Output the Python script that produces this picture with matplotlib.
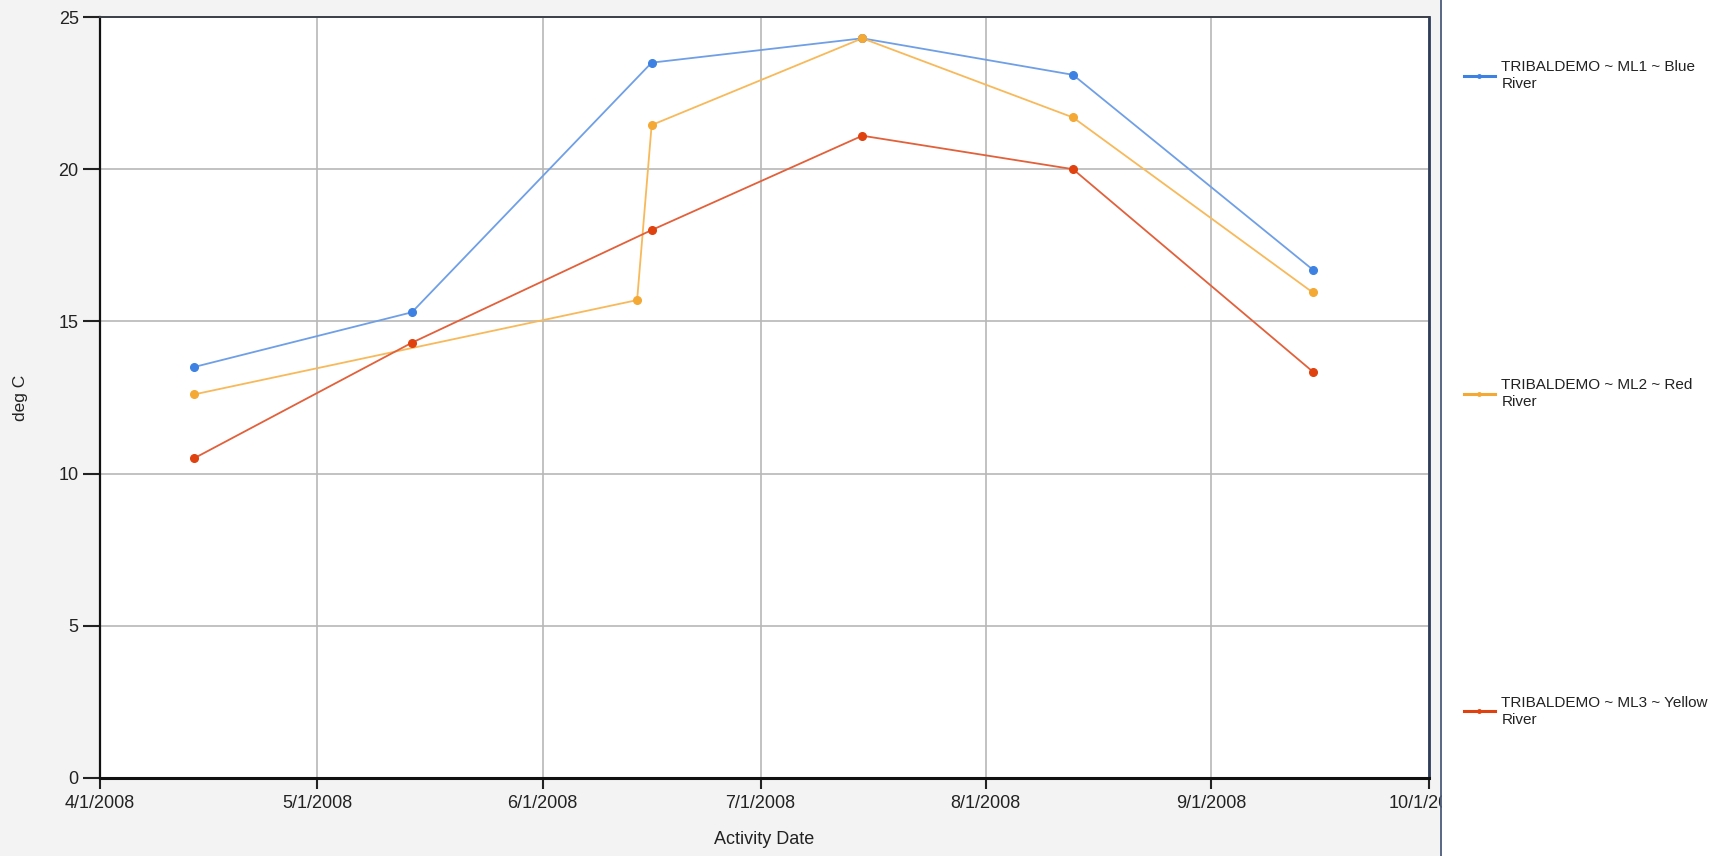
import matplotlib
matplotlib.use("Agg")
import matplotlib.pyplot as plt
import matplotlib.dates as mdates
from matplotlib.patches import Rectangle
from matplotlib.lines import Line2D
import numpy as np
import datetime as dt

plt.rcParams['font.family'] = ['Liberation Sans', 'DejaVu Sans']

# data
blue_dates = ['2008-04-14', '2008-05-14', '2008-06-16', '2008-07-15', '2008-08-13', '2008-09-15']
blue_vals = [13.5, 15.3, 23.5, 24.3, 23.1, 16.7]

orange_dates = ['2008-04-14', '2008-06-14', '2008-06-16', '2008-07-15', '2008-08-13', '2008-09-15']
orange_vals = [12.6, 15.7, 21.45, 24.3, 21.7, 15.95]

red_dates = ['2008-04-14', '2008-05-14', '2008-06-16', '2008-07-15', '2008-08-13', '2008-09-15']
red_vals = [10.5, 14.3, 18.0, 21.1, 20.0, 13.35]

series_labels = ['TRIBALDEMO ~ ML1 ~ Blue\nRiver',
                 'TRIBALDEMO ~ ML2 ~ Red\nRiver',
                 'TRIBALDEMO ~ ML3 ~ Yellow\nRiver']
line_colors = ['#6f9fe6', '#f7b95a', '#e2603a']
marker_colors = ['#3d82e3', '#f5a935', '#e0420f']

y_ticks = [0, 5, 10, 15, 20, 25]
x_start = dt.date(2008, 4, 1)
x_end = dt.date(2008, 10, 1)


def to_dates(lst):
    return [dt.datetime.strptime(s, '%Y-%m-%d') for s in lst]


W, H = 1723, 856
fig = plt.figure(figsize=(W / 100, H / 100), dpi=100)
fig.patch.set_facecolor('#f3f3f3')

ax = fig.add_axes([99.5 / W, 1 - 778 / H, (1429 - 99.5) / W, (778 - 17) / H])
ax.set_facecolor('white')

series = [(blue_dates, blue_vals), (orange_dates, orange_vals), (red_dates, red_vals)]
handles = []
for (d, v), lc, mc, lab in zip(series, line_colors, marker_colors, series_labels):
    ax.plot(to_dates(d), v, color=lc, linewidth=1.3, zorder=3)
    ax.plot(to_dates(d), v, linestyle='none', marker='o', markersize=5.5,
            markerfacecolor=mc, markeredgecolor=mc, zorder=4)
    handles.append(Line2D([0], [0], color=mc, linewidth=2.2, marker='o',
                          markersize=2.5, markerfacecolor=mc, markeredgecolor=mc))

ax.set_xlim(x_start, x_end)
ax.set_ylim(0, 25)
ax.set_yticks(y_ticks)
ax.xaxis.set_major_locator(mdates.MonthLocator())
ax.xaxis.set_major_formatter(plt.FuncFormatter(
    lambda x, pos: (lambda d: f"{d.month}/{d.day}/{d.year}")(mdates.num2date(x))))

ax.grid(True, color='#b8b8b8', linewidth=1.2, zorder=1)
ax.set_axisbelow(True)

ax.tick_params(axis='y', length=12, width=1.5, pad=3, labelsize=13, colors='#222222')
ax.tick_params(axis='x', length=8, width=1.5, pad=4, labelsize=13, colors='#222222')

ax.spines['left'].set_linewidth(1.6)
ax.spines['left'].set_color('#111111')
ax.spines['bottom'].set_linewidth(2.2)
ax.spines['bottom'].set_color('#111111')
ax.spines['top'].set_linewidth(1.4)
ax.spines['top'].set_color('#3a3f48')
ax.spines['right'].set_linewidth(2.0)
ax.spines['right'].set_color('#2e3d5a')

ax.set_xlabel('Activity Date', fontsize=13, color='#222222', labelpad=14)
ax.set_ylabel('deg C', fontsize=12.5, color='#222222', labelpad=22)

# right legend panel
panel = Rectangle((1441.5 / W, 0), 1 - 1441.5 / W, 1, transform=fig.transFigure,
                  facecolor='white', edgecolor='none', zorder=5)
fig.add_artist(panel)
fig.add_artist(Line2D([1441 / W, 1441 / W], [0, 1], transform=fig.transFigure,
                      color='#4b5c7c', linewidth=1.3, zorder=6))

leg = fig.legend(handles, series_labels, loc='upper left',
                 bbox_to_anchor=(1464 / W, 1 - 60 / H), frameon=False,
                 fontsize=11, handlelength=2.0, handletextpad=0.45,
                 labelspacing=18.75, borderpad=0, borderaxespad=0)
leg.set_zorder(7)
for t in leg.get_texts():
    t.set_color('#222222')
    t.set_linespacing(1.3)

fig.savefig('out.png', dpi=100, facecolor=fig.get_facecolor())
